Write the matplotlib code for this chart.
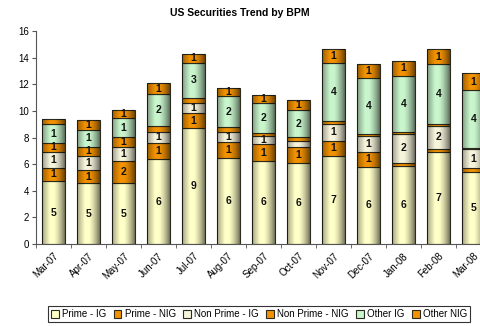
import matplotlib.pyplot as plt
import numpy as np
from matplotlib.patches import Rectangle

months = ['Mar-07', 'Apr-07', 'May-07', 'Jun-07', 'Jul-07', 'Aug-07', 'Sep-07',
          'Oct-07', 'Nov-07', 'Dec-07', 'Jan-08', 'Feb-08', 'Mar-08']

prime_ig = [4.73, 4.56, 4.56, 6.36, 8.69, 6.44, 6.24, 6.11, 6.61, 5.81, 5.86, 6.89, 5.43]
prime_nig = [1.00, 1.00, 1.70, 1.20, 1.13, 1.25, 1.25, 1.20, 1.15, 1.12, 0.25, 0.25, 0.30]
nonprime_ig = [1.20, 1.05, 1.00, 0.88, 0.80, 0.75, 0.62, 0.43, 1.26, 1.18, 2.15, 1.75, 1.38]
nonprime_nig = [0.68, 0.70, 0.80, 0.45, 0.37, 0.33, 0.25, 0.28, 0.20, 0.15, 0.13, 0.13, 0.13]
other_ig = [1.38, 1.25, 1.38, 2.38, 2.63, 2.35, 2.20, 2.05, 4.40, 4.19, 4.26, 4.48, 4.33]
other_nig = [0.42, 0.75, 0.63, 0.80, 0.65, 0.60, 0.65, 0.75, 1.00, 1.07, 1.12, 1.12, 1.25]

series = [
    ('Prime - IG', prime_ig, '#FFFFC8'),
    ('Prime - NIG', prime_nig, '#F39200'),
    ('Non Prime - IG', nonprime_ig, '#F7F4DC'),
    ('Non Prime - NIG', nonprime_nig, '#F39200'),
    ('Other IG', other_ig, '#C8F5CC'),
    ('Other NIG', other_nig, '#F39200'),
]

plt.rcParams['font.family'] = ['Liberation Sans', 'DejaVu Sans']

fig = plt.figure(figsize=(4.8, 3.26), dpi=100)
ax = fig.add_axes([36 / 480, 82 / 326, 455 / 480, 213 / 326])

x = np.arange(len(months))
width = 0.63
bottom = np.zeros(len(months))
for name, vals, color in series:
    vals = np.array(vals)
    ax.bar(x, vals, width, bottom=bottom, color=color, edgecolor='#2b2b1f',
           linewidth=0.8, label=name, zorder=2)
    for xi, b, v in zip(x, bottom, vals):
        if round(v) >= 1:
            ax.text(xi, b + v / 2, f'{v:.0f}', ha='center', va='center',
                    fontsize=7.5, fontweight='bold', color='#111111', zorder=5)
    bottom += vals

# cylinder-like shading over each stacked column
grad = np.linspace(0, 1, 64)
alpha = np.where(grad < 0.35, 0.35 * (1 - grad / 0.35), 0.0)
alpha = alpha + np.where(grad > 0.5, 0.55 * ((grad - 0.5) / 0.5) ** 1.5, 0.0)
shade = np.zeros((1, 64, 4))
shade[0, :, 3] = alpha
for xi, top in zip(x, bottom):
    clip = Rectangle((xi - width / 2, 0), width, top, transform=ax.transData)
    im = ax.imshow(shade, extent=(xi - width / 2, xi + width / 2, 0, top),
                   aspect='auto', zorder=3, interpolation='bilinear')
    im.set_clip_path(clip)

ax.set_xlim(-0.5, len(months) - 0.5)
ax.set_ylim(0, 16)
ax.set_yticks(range(0, 17, 2))
ax.set_xticks(x)
ax.set_xticklabels(months, rotation=45, ha='right', rotation_mode='anchor', fontsize=7)
ax.set_xticks(np.arange(len(months) + 1) - 0.5, minor=True)
ax.tick_params(axis='x', which='major', length=0, pad=5)
ax.tick_params(axis='x', which='minor', length=3, color='#555555')
ax.tick_params(axis='y', labelsize=7, length=3, color='#555555', pad=2)
for side in ['top', 'right']:
    ax.spines[side].set_visible(False)
ax.spines['left'].set_color('#555555')
ax.spines['bottom'].set_color('#555555')

fig.suptitle('US Securities Trend by BPM', x=0.5, y=0.975, fontsize=7.5, fontweight='bold')

leg = fig.legend(loc='center', bbox_to_anchor=(0.540, 0.036), ncol=6, fontsize=7,
                 frameon=True, fancybox=False, edgecolor='black', handlelength=0.8,
                 handleheight=0.8, handletextpad=0.35, columnspacing=0.75,
                 borderpad=0.3)
leg.get_frame().set_linewidth(0.8)

fig.savefig('out.png', dpi=100)
